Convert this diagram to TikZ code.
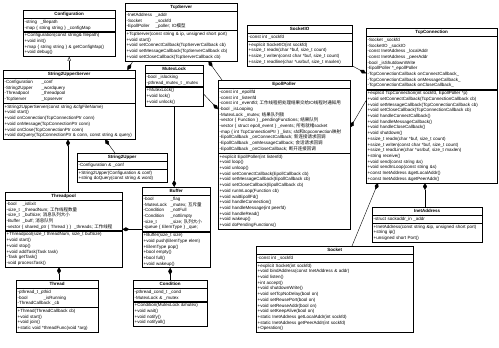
\documentclass[tikz,border=0pt]{standalone}
\usepackage{fontspec}
\setmainfont{Liberation Sans}
\newfontfamily\cjkfont{Noto Sans CJK SC}
\usetikzlibrary{arrows.meta}

\newcommand\zh[1]{{\cjkfont #1}}
\newcommand\fld[2][30pt]{\makebox[#1][l]{#2}}
\newcommand\umlfont{\fontsize{4.5}{5.7}\selectfont}

\begin{document}
\begin{tikzpicture}[x=1pt, y=-1pt,
  classname/.style={draw, fill=white, line width=0.4pt, anchor=north west, minimum width=#1+3pt,
    inner xsep=1.5pt, inner ysep=1.6pt, text height=3.5pt, text depth=1.2pt, font=\umlfont\bfseries},
  classpart/.style={draw, fill=white, line width=0.4pt, anchor=north west, text width=#1,
    align=left, inner xsep=1.5pt, inner ysep=1.6pt, font=\umlfont},
  comp/.style={{Diamond[length=7pt,width=4pt]}-, line width=0.4pt},
  dep/.style={-{Triangle[open,length=4pt,width=3.5pt]}, line width=0.4pt}
]
\useasboundingbox (0,0) rectangle (499,348);
\fill[white] (0,0) rectangle (499,348);

% top row
\node[classname=89pt] (configuration) at (23,10) {Configuration};
\node[classpart=89pt] (configuration-attr) at (configuration.south west)
  {\fld[16pt]{-string}\_filepath\\
   -map \{ string string \} \_configMap};
\node[classpart=89pt] (configuration-ops) at (configuration-attr.south west)
  {+Configuration(const string\& filepath)\\
   +void init()\\
   +map \{ string string \} \& getConfigMap()\\
   +void debug()};

\node[classname=109pt] (tcpserver) at (125,3) {TcpServer};
\node[classpart=109pt] (tcpserver-attr) at (tcpserver.south west)
  {\fld[29pt]{-InetAddress}\_addr\\
   \fld[29pt]{-Socket}\_sockfd\\
   \fld[29pt]{-EpollPoller}\_poller; IO\zh{模型}};
\node[classpart=109pt] (tcpserver-ops) at (tcpserver-attr.south west)
  {+TcpServer(const string \& ip, unsigned short port)\\
   +void start()\\
   +void setConnectCallback(TcpServerCallback cb)\\
   +void setMessageCallback(TcpServerCallback cb)\\
   +void setCloseCallback(TcpServerCallback cb)};

\node[classname=102pt] (socketio) at (247,25) {SocketIO};
\node[classpart=102pt] (socketio-attr) at (socketio.south west) {-const int \_sockfd};
\node[classpart=102pt] (socketio-ops) at (socketio-attr.south west)
  {+explicit SocketIO(int sockfd)\\
   +ssize\_t readn(char *buf, size\_t count)\\
   +ssize\_t writen(const char *buf, size\_t count)\\
   +ssize\_t readline(char *usrbuf, size\_t maxlen)};

\node[classname=128pt] (tcpconnection) at (366,28) {TcpConnection};
\node[classpart=128pt] (tcpconnection-attr) at (tcpconnection.south west)
  {-Socket \_sockfd\\
   -SocketIO \_sockIO\\
   -const InetAddress \_localAddr\\
   -const InetAddress \_peerAddr\\
   -bool \_isShutdownWrite\\
   -EpollPoller *\_epollPoller\\
   -TcpConnectionCallback onConnectCallback\_\\
   -TcpConnectionCallback onMessageCallback\_\\
   -TcpConnectionCallback onCloseCallback\_};
\node[classpart=128pt] (tcpconnection-ops) at (tcpconnection-attr.south west)
  {+explicit TcpConnection(int sockfd, EpollPoller *p)\\
   +void setConnectCallback(TcpConnectionCallback cb)\\
   +void setMessageCallback(TcpConnectionCallback cb)\\
   +void setCloseCallback(TcpConnectionCallback cb)\\
   +void handleConnectCallback()\\
   +void handleMessageCallback()\\
   +void handleCloseCallback()\\
   +void shutdown()\\
   +ssize\_t readn(char *buf, size\_t count)\\
   +ssize\_t writen(const char *buf, size\_t count)\\
   +ssize\_t readLine(char *usrbuf, size\_t maxlen)\\
   +string receive()\\
   +void send(const string \&s)\\
   +void sendInLoop(const string \&s)\\
   +const InetAddress \&getLocalAddr()\\
   +const InetAddress \&getPeerAddr()};

% middle
\node[classname=129pt] (s2userver) at (3,70) {String2UpperServer};
\node[classpart=129pt] (s2userver-attr) at (s2userver.south west)
  {\fld[37pt]{-Configuration}\_conf\\
   \fld[37pt]{-String2Upper}\_wordquery\\
   \fld[37pt]{-Threadpool}\_threadpool\\
   \fld[37pt]{-TcpServer}\_tcpserver};
\node[classpart=129pt] (s2userver-ops) at (s2userver-attr.south west)
  {+String2UpperServer(const string \&cfgFileName)\\
   +void start()\\
   +void onConnection(TcpConnectionPtr conn)\\
   +void onMessage(TcpConnectionPtr conn)\\
   +void onClose(TcpConnectionPtr conn)\\
   +void doQuery(TcpConnectionPtr \& conn, const string \& query)};

\node[classname=55pt] (mutexlock) at (145,65) {MutexLock};
\node[classpart=55pt] (mutexlock-attr) at (mutexlock.south west)
  {\fld[11.5pt]{-bool}\_islocking\\
   -pthread\_mutex\_t \_mutex};
\node[classpart=55pt] (mutexlock-ops) at (mutexlock-attr.south west)
  {+MutexLock()\\
   +void lock()\\
   +void unlock()};

\node[classname=129pt] (epollpoller) at (218,80) {EpollPoller};
\node[classpart=129pt] (epollpoller-attr) at (epollpoller.south west)
  {-const int \_epollfd\\
   -const int \_listenfd\\
   -const int \_eventfd; \zh{工作线程把处理结果交给}IO\zh{线程时通知用}\\
   -bool \_isLooping\\
   -MutexLock \_mutex; \zh{结果队列锁}\\
   -vector \{ Function \} \_pendingFunctions; \zh{结果队列}\\
   -vector \{ struct epoll\_event \} \_events; \zh{所有就绪}socket\\
   -map \{ int TcpConnectionPtr \} \_lists; sfd\zh{和}tcpconnection\zh{映射}\\
   -EpollCallback \_onConnectCallback; \zh{新连接请求回调}\\
   -EpollCallback \_onMessageCallback; \zh{会话请求回调}\\
   -EpollCallback \_onCloseCallback; \zh{断开连接回调}};
\node[classpart=129pt] (epollpoller-ops) at (epollpoller-attr.south west)
  {+explicit EpollPoller(int listenfd)\\
   +void loop()\\
   +void unloop()\\
   +void setConnectCallback(EpollCallback cb)\\
   +void setMessageCallback(EpollCallback cb)\\
   +void setCloseCallback(EpollCallback cb)\\
   +void runInLoop(Function cb)\\
   +void waitEpollFd()\\
   +void handleConnection()\\
   +void handleMessage(int peerfd)\\
   +void handleRead()\\
   +void wakeup()\\
   +void doPendingFunctions()};

\node[classname=87pt] (s2upper) at (77,153) {String2Upper};
\node[classpart=87pt] (s2upper-attr) at (s2upper.south west) {-Configuration \& \_conf};
\node[classpart=87pt] (s2upper-ops) at (s2upper-attr.south west)
  {+String2Upper(Configuration \& conf)\\
   +string doQuery(const string \& word)};

\node[classname=114pt] (threadpool) at (5,192) {Threadpool};
\node[classpart=114pt] (threadpool-attr) at (threadpool.south west)
  {\fld[16pt]{-bool}\_isExit\\
   \fld[16pt]{-size\_t}\_threadNum; \zh{工作线程数量}\\
   \fld[16pt]{-size\_t}\_bufSize; \zh{消息队列大小}\\
   \fld[16pt]{-Buffer}\_buff; \zh{消息队列}\\
   -vector \{ shared\_ptr \{ Thread \} \} \ \_threads; \zh{工作线程}};
\node[classpart=114pt] (threadpool-ops) at (threadpool-attr.south west)
  {+Threadpool(size\_t threadNum, size\_t bufSize)\\
   +void start()\\
   +void stop()\\
   +void addTask(Task task)\\
   -Task getTask()\\
   -void processTask()};

\node[classname=65pt] (buffer) at (142,187) {Buffer};
\node[classpart=65pt] (buffer-attr) at (buffer.south west)
  {\fld[27pt]{-bool}\_flag\\
   \fld[27pt]{-MutexLock}\_mutex; \zh{互斥量}\\
   \fld[27pt]{-Condition}\_notFull\\
   \fld[27pt]{-Condition}\_notEmpty\\
   \fld[27pt]{-size\_t}\_size; \zh{队列大小}\\
   -queue \{ ElemType \} \_que;};
\node[classpart=65pt] (buffer-ops) at (buffer-attr.south west)
  {+Buffer(size\_t size)\\
   +void push(ElemType elem)\\
   +ElemType pop()\\
   +bool empty()\\
   +bool full()\\
   +void wakeup()};

\node[classname=107pt] (inetaddress) at (372,207) {InetAddress};
\node[classpart=107pt] (inetaddress-attr) at (inetaddress.south west) {-struct sockaddr\_in \_addr};
\node[classpart=107pt] (inetaddress-ops) at (inetaddress-attr.south west)
  {+InetAddress(const string \&ip, unsigned short port)\\
   +string ip()\\
   +unsigned short Port()};

% bottom row
\node[classname=79pt] (thread) at (16,280) {Thread};
\node[classpart=79pt] (thread-attr) at (thread.south west)
  {\fld[21pt]{-pthread\_t}\_pthid\\
   \fld[26pt]{-bool}\_isRunning\\
   -ThreadCallback \_cb};
\node[classpart=79pt] (thread-ops) at (thread-attr.south west)
  {+Thread(ThreadCallback cb)\\
   +void start()\\
   +void join()\\
   +static void *threadFunc(void *arg)};

\node[classname=71pt] (condition) at (133,280) {Condition};
\node[classpart=71pt] (condition-attr) at (condition.south west)
  {-pthread\_cond\_t \_cond\\
   -MutexLock \& \_mutex};
\node[classpart=71pt] (condition-ops) at (condition-attr.south west)
  {+Condition(MutexLock \&mutex)\\
   +void wait()\\
   +void notify()\\
   +void notifyall()};

\node[classname=154pt] (socket) at (256,246) {Socket};
\node[classpart=154pt] (socket-attr) at (socket.south west) {-const int \_sockfd};
\node[classpart=154pt] (socket-ops) at (socket-attr.south west)
  {+explicit Socket(int sockfd)\\
   +void bindAddress(const InetAddress \& addr)\\
   +void listen()\\
   +int accept()\\
   +void shutdownWrite()\\
   +void setTcpNoDelay(bool on)\\
   +void setReusePort(bool on)\\
   +void setReuseAddr(bool on)\\
   +void setKeepAlive(bool on)\\
   +static InetAddress getLocalAddr(int sockfd)\\
   +static InetAddress getPeerAddr(int sockfd)\\
   +Operation()};

% connectors
\draw[dep] (configuration-ops.south |- s2userver.north) -- (configuration-ops.south);
\draw[comp] ([xshift=-8pt]s2userver.north east) -- ([xshift=8pt]tcpserver-ops.south west);
\draw[comp] ([xshift=102pt]s2userver-ops.south west) -- ([xshift=38pt]s2upper.north west);
\draw[comp] ([xshift=65pt]s2userver-ops.south west) -- ([xshift=65pt]s2userver-ops.south west |- threadpool.north);
\draw[comp] ([xshift=54pt]threadpool-ops.south west) -- ([xshift=54pt]threadpool-ops.south west |- thread.north);
\draw[comp] ([yshift=-29pt]threadpool-attr.north east) -- ([yshift=-29pt]threadpool-attr.north east -| buffer-attr.west);
\draw[comp] (mutexlock-ops.south |- buffer.north) -- (mutexlock-ops.south);
\draw[comp] (condition.north |- buffer-ops.south) -- (condition.north);
\draw[comp] ([yshift=-21pt]epollpoller-attr.north west) -- ([yshift=-7pt]mutexlock-ops.north east);
\draw[comp] ([xshift=-29pt]tcpserver-ops.south east) -- ([xshift=4pt]epollpoller.north west);
\draw[comp] ([yshift=-37pt]tcpconnection-attr.north west) -- (socketio-ops.south east);
\draw[comp] ([yshift=-39pt]epollpoller-attr.north east) -- ([yshift=-11pt]tcpconnection-ops.north west);
\draw[comp] ([xshift=12pt]tcpconnection-ops.south west) -- ([xshift=96pt]socket.north west);
\draw[comp] ([xshift=53pt]inetaddress.north west |- tcpconnection-ops.south) -- ([xshift=53pt]inetaddress.north west);
\end{tikzpicture}
\end{document}
